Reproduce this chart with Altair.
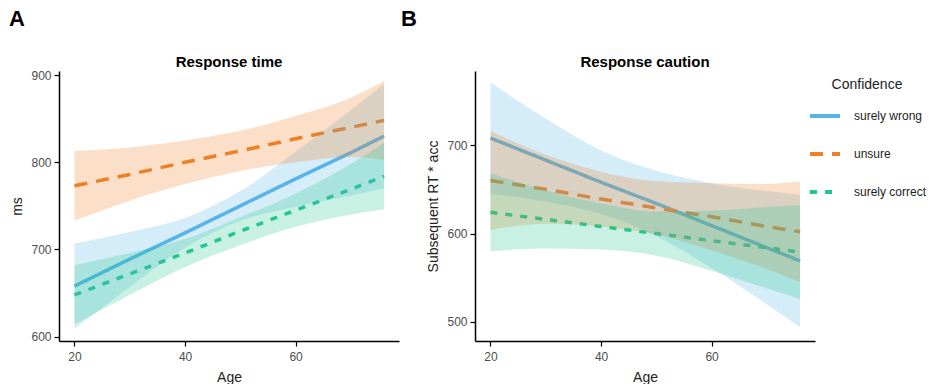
import altair as alt
import pandas as pd

# ---------------- data ----------------
AGES = [20, 30, 40, 50, 60, 70, 76]
CONF = ["surely wrong", "unsure", "surely correct"]

# Panel A: Response time (ms)
rt_wrong = [658, 689, 719, 750, 781, 811, 830]
rt_wrong_lo = [609, 657, 702, 733, 749, 762, 770]
rt_wrong_hi = [707, 720, 736, 767, 812, 860, 890]
rt_unsure = [773, 786, 800, 813, 827, 840, 848]
rt_unsure_lo = [733, 756, 775, 790, 800, 806, 803]
rt_unsure_hi = [813, 817, 825, 836, 853, 874, 893]
rt_correct = [648, 672, 696, 721, 745, 769, 784]
rt_correct_lo = [614, 648, 680, 705, 726, 740, 746]
rt_correct_hi = [682, 696, 712, 737, 764, 798, 822]

# Panel B: Response caution (subsequent RT * acc)
rc_wrong = [708, 683, 658, 634, 609, 584, 569]
rc_wrong_lo = [645, 636, 622, 597, 561, 520, 494]
rc_wrong_hi = [771, 730, 694, 671, 657, 648, 644]
rc_unsure = [660, 650, 639, 629, 619, 608, 602]
rc_unsure_lo = [604, 611, 608, 599, 581, 560, 545]
rc_unsure_hi = [716, 689, 670, 659, 657, 656, 659]
rc_correct = [624, 616, 608, 600, 592, 584, 579]
rc_correct_lo = [580, 583, 582, 575, 558, 538, 526]
rc_correct_hi = [668, 649, 634, 625, 626, 630, 632]

X_TICKS = [20, 40, 60]
A_TICKS = [600, 700, 800, 900]
B_TICKS = [500, 600, 700]

COLORS = ["#56B4E9", "#EE8025", "#22C690"]
DASHES = [[1, 0], [13, 9], [7, 8]]
FONT = "Liberation Sans"


def frame(series):
    rows = []
    for conf, (mid, lo, hi) in zip(CONF, series):
        for a, m, l, h in zip(AGES, mid, lo, hi):
            rows.append({"age": a, "conf": conf, "fit": m, "lo": l, "hi": h})
    return pd.DataFrame(rows)


dfA = frame([(rt_wrong, rt_wrong_lo, rt_wrong_hi),
             (rt_unsure, rt_unsure_lo, rt_unsure_hi),
             (rt_correct, rt_correct_lo, rt_correct_hi)])
dfB = frame([(rc_wrong, rc_wrong_lo, rc_wrong_hi),
             (rc_unsure, rc_unsure_lo, rc_unsure_hi),
             (rc_correct, rc_correct_lo, rc_correct_hi)])

legend = alt.Legend(
    title="Confidence", orient="none", legendX=749, legendY=7,
    symbolType="stroke", symbolSize=900, symbolStrokeWidth=4,
    labelFontSize=12, labelFont=FONT, labelColor="#222222", labelOffset=12,
    titleFontSize=14, titleFont=FONT, titleFontWeight="normal", titleColor="#222222",
    titleAnchor="middle", titlePadding=7, rowPadding=13,
)


def panel(df, title, ytitle, ydomain, yticks, letter, lx, ly):
    xenc = alt.X("age:Q", scale=alt.Scale(domain=[17.2, 78.7], nice=False, zero=False),
                 axis=alt.Axis(values=X_TICKS, title="Age", labelPadding=5, titlePadding=8))
    yaxis = alt.Axis(values=yticks, title=ytitle)
    yscale = alt.Scale(domain=ydomain, nice=False, zero=False)
    base = alt.Chart(df)
    lines = base.mark_line(strokeWidth=3.5, clip=True).encode(
        x=xenc,
        y=alt.Y("fit:Q", scale=yscale, axis=yaxis),
        stroke=alt.Stroke("conf:N", scale=alt.Scale(domain=CONF, range=COLORS),
                          sort=CONF, legend=legend),
        strokeDash=alt.StrokeDash("conf:N", scale=alt.Scale(domain=CONF, range=DASHES),
                                  sort=CONF, legend=legend),
        detail="conf:N",
    )
    bands = base.mark_area(opacity=0.25, interpolate="monotone", clip=True).encode(
        x=xenc,
        y=alt.Y("lo:Q", scale=yscale, axis=yaxis),
        y2="hi:Q",
        fill=alt.Fill("conf:N", scale=alt.Scale(domain=CONF, range=COLORS), legend=None),
        detail="conf:N",
    )
    lab = alt.Chart(pd.DataFrame({"t": [letter]})).mark_text(
        font=FONT, fontSize=22, fontWeight="bold", align="left", baseline="alphabetic",
        color="black",
    ).encode(text="t:N", x=alt.value(lx), y=alt.value(ly))
    ttl = alt.Chart(pd.DataFrame({"t": [title]})).mark_text(
        font=FONT, fontSize=15, fontWeight="bold", align="center", baseline="alphabetic",
        color="black",
    ).encode(text="t:N", x=alt.value(170), y=alt.value(-4))
    return alt.layer(lines, bands, lab, ttl).properties(width=340, height=270)


pA = panel(dfA, "Response time", "ms", [595.1, 904.6], A_TICKS, "A", -50, -45)
pB = panel(dfB, "Response caution", "Subsequent RT * acc", [478.5, 783.8], B_TICKS, "B", -74, -45)

chart = alt.hconcat(pA, pB, spacing=76, bounds="flush").resolve_scale(
    y="independent"
).properties(
    padding={"left": 9, "top": 8, "right": 0, "bottom": 0}
).configure_view(stroke=None).configure_axis(
    grid=False, domainColor="black", domainWidth=1.5, tickColor="black",
    tickWidth=1.2, tickSize=5, labelColor="#4D4D4D", labelFontSize=12,
    labelFont=FONT, titleFont=FONT, titleFontSize=14, titleFontWeight="normal",
    titleColor="#222222", labelPadding=3, titlePadding=6,
)

chart.save("out.html", embed_options={"renderer": "svg", "actions": False})
